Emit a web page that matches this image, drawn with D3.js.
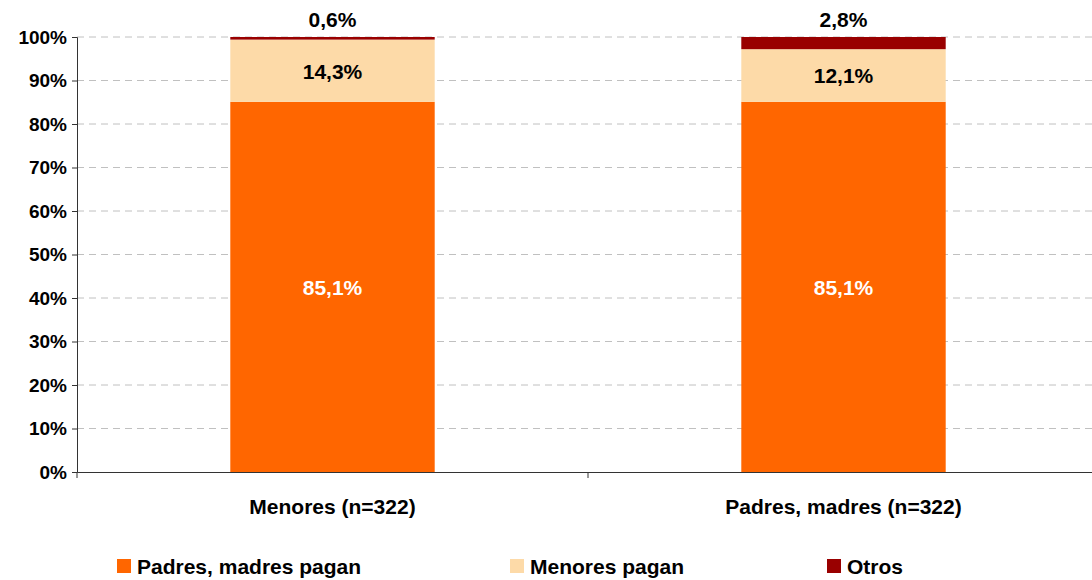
<!DOCTYPE html>
<html>
<head>
<meta charset="utf-8">
<script src="https://cdn.jsdelivr.net/npm/d3@7"></script>
<style>
  body { margin: 0; background: #fff; }
  svg text { font-family: "Liberation Sans", Arial, sans-serif; font-weight: bold; }
</style>
</head>
<body>
<div id="chart"></div>
<script>
// Data
const categories = ["Menores (n=322)", "Padres, madres (n=322)"];
const seriesNames = ["Padres, madres pagan", "Menores pagan", "Otros"];
const padresPagan = [85.1, 85.1];
const menoresPagan = [14.3, 12.1];
const otros = [0.6, 2.8];
const colors = ["#FF6600", "#FDDAA8", "#990000"];
const yTicks = [0, 10, 20, 30, 40, 50, 60, 70, 80, 90, 100];

const W = 1092, H = 580;
const margin = {top: 37, left: 77, bottom: 108, right: -7};

const svg = d3.select("#chart").append("svg")
  .attr("width", W)
  .attr("height", H);

const rows = categories.map((c, i) => ({
  cat: c,
  "Padres, madres pagan": padresPagan[i],
  "Menores pagan": menoresPagan[i],
  "Otros": otros[i]
}));

const stacked = d3.stack().keys(seriesNames)(rows);

const x = d3.scaleBand()
  .domain(categories)
  .range([margin.left, W - margin.right]);

const y = d3.scaleLinear()
  .domain([0, 100])
  .range([H - margin.bottom, margin.top]);

const fmt = v => v.toFixed(1).replace(".", ",") + "%";

// gridlines
svg.append("g")
  .selectAll("line")
  .data(yTicks.filter(d => d > 0))
  .enter()
  .append("line")
  .attr("x1", margin.left)
  .attr("x2", W)
  .attr("y1", d => y(d))
  .attr("y2", d => y(d))
  .attr("stroke", "#c0c0c0")
  .attr("stroke-dasharray", "7,5");

const barW = x.bandwidth() * 0.4;

// bars
const layers = svg.selectAll(".layer")
  .data(stacked)
  .enter()
  .append("g")
  .attr("fill", (d, i) => colors[i]);

layers.selectAll("rect")
  .data(d => d)
  .enter()
  .append("rect")
  .attr("x", d => x(d.data.cat) + (x.bandwidth() - barW) / 2)
  .attr("y", d => y(d[1]))
  .attr("width", barW)
  .attr("height", d => y(d[0]) - y(d[1]));

// value labels
stacked.forEach((layer, li) => {
  svg.append("g")
    .selectAll("text")
    .data(layer)
    .enter()
    .append("text")
    .attr("x", d => x(d.data.cat) + x.bandwidth() / 2)
    .attr("y", d => li === 2 ? y(d[1]) - 10 : y((d[0] + d[1]) / 2) + 8)
    .attr("text-anchor", "middle")
    .style("font-size", "21px")
    .attr("fill", li === 0 ? "#fff" : "#000")
    .text(d => fmt(d[1] - d[0]));
});

// y axis
const yAxis = svg.append("g")
  .attr("transform", `translate(${margin.left},0)`)
  .call(d3.axisLeft(y).tickValues(yTicks).tickFormat(d => d + "%").tickSizeOuter(0).tickSize(5));
yAxis.select(".domain").attr("stroke", "#333");
yAxis.selectAll(".tick line").attr("stroke", "#333");
yAxis.selectAll("text")
  .style("font-size", "19px")
  .attr("fill", "#000")
  .attr("x", -10);

// x axis
const xAxis = svg.append("g")
  .attr("transform", `translate(0,${H - margin.bottom})`)
  .call(d3.axisBottom(x).tickSize(0).tickSizeOuter(0));
xAxis.select(".domain").attr("stroke", "#333");
xAxis.selectAll("text")
  .style("font-size", "21px")
  .attr("fill", "#000")
  .attr("y", 27)
  .attr("dy", "0.71em");

// tick between categories
svg.append("g")
  .selectAll("line")
  .data(categories)
  .enter()
  .append("line")
  .attr("x1", d => x(d))
  .attr("x2", d => x(d))
  .attr("y1", H - margin.bottom)
  .attr("y2", H - margin.bottom + 6)
  .attr("stroke", "#333");

// legend
const legendX = [117, 510, 827];
const legend = svg.append("g")
  .selectAll("g")
  .data(seriesNames)
  .enter()
  .append("g")
  .attr("transform", (d, i) => `translate(${legendX[i]},559)`);
legend.append("rect")
  .attr("width", 14)
  .attr("height", 14)
  .attr("fill", (d, i) => colors[i]);
legend.append("text")
  .attr("x", 20)
  .attr("y", 15)
  .style("font-size", "21px")
  .attr("fill", "#000")
  .text(d => d);
</script>
</body>
</html>
